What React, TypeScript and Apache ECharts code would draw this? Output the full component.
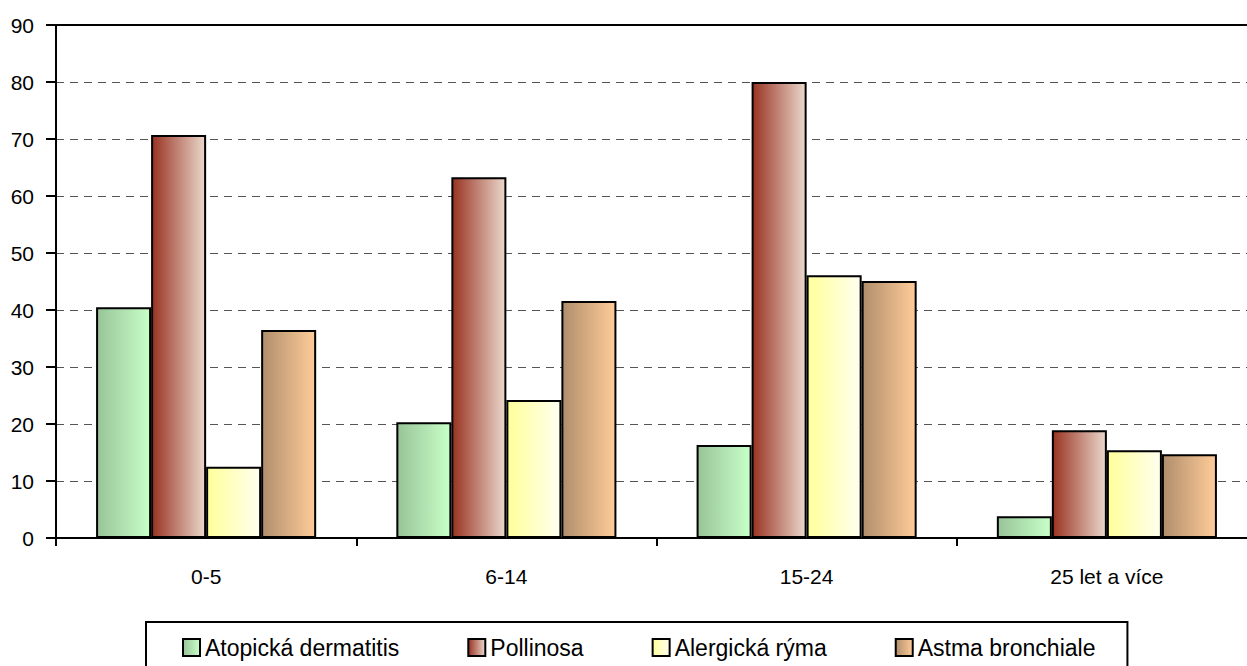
import React, { useEffect, useRef } from "react";
import * as echarts from "echarts";

const categories = ["0-5", "6-14", "15-24", "25 let a více"];
const seriesNames = ["Atopická dermatitis", "Pollinosa", "Alergická rýma", "Astma bronchiale"];
const atopicka = [40.5, 20.3, 16.3, 3.8];
const pollinosa = [70.7, 63.3, 80.0, 18.9];
const ryma = [12.5, 24.2, 46.1, 15.4];
const astma = [36.5, 41.6, 45.1, 14.7];
const yTicks = { min: 0, max: 90, interval: 10 };

const gradients: [string, string][] = [
  ["#98c498", "#c8ffc8"],
  ["#993322", "#ead8cc"],
  ["#ffff99", "#fffff0"],
  ["#b08e6c", "#ffcc99"],
];

const FONT = "'Liberation Sans', Arial, sans-serif";

function grad(c: [string, string]) {
  return new echarts.graphic.LinearGradient(0, 0, 1, 0, [
    { offset: 0, color: c[0] },
    { offset: 1, color: c[1] },
  ]);
}

export default function App() {
  const ref = useRef<HTMLDivElement>(null);
  useEffect(() => {
    if (!ref.current) return;
    const chart = echarts.init(ref.current, null, { renderer: "svg" });
    const data = [atopicka, pollinosa, ryma, astma];
    chart.setOption({
      animation: false,
      backgroundColor: "#ffffff",
      textStyle: { fontFamily: FONT },
      grid: {
        left: 56,
        width: 1201,
        top: 25,
        bottom: 128,
        containLabel: false,
        outerBoundsMode: "none",
      },
      legend: {
        top: 622,
        left: 146,
        data: seriesNames,
        icon: "rect",
        itemWidth: 17,
        itemHeight: 17,
        itemGap: 68,
        padding: [14, 32, 40, 36],
        borderColor: "#000",
        borderWidth: 2,
        textStyle: { fontSize: 23, color: "#000", fontFamily: FONT },
        itemStyle: { borderColor: "#000", borderWidth: 2 },
      },
      xAxis: [
        {
          type: "category",
          data: categories,
          axisLine: { lineStyle: { color: "#000", width: 2 } },
          axisTick: { show: true, length: 8, lineStyle: { color: "#000", width: 2 } },
          axisLabel: { fontSize: 21, color: "#000", margin: 28, fontFamily: FONT },
        },
        {
          type: "category",
          data: categories,
          position: "top",
          axisLine: { show: true, lineStyle: { color: "#000", width: 2 } },
          axisTick: { show: false },
          axisLabel: { show: false },
        },
      ],
      yAxis: {
        type: "value",
        min: yTicks.min,
        max: yTicks.max,
        interval: yTicks.interval,
        axisLine: { show: true, lineStyle: { color: "#000", width: 2 } },
        axisTick: { show: true, length: 10, lineStyle: { color: "#000", width: 2 } },
        axisLabel: { fontSize: 21, color: "#000", margin: 22, fontFamily: FONT },
        splitLine: { lineStyle: { color: "#555", type: [8, 6], width: 1 } },
      },
      series: seriesNames.map((name, i) => ({
        name,
        type: "bar",
        data: data[i],
        barGap: "0%",
        barCategoryGap: "26.7%",
        itemStyle: { color: grad(gradients[i]), borderColor: "#000", borderWidth: 2 },
      })),
    });
    return () => chart.dispose();
  }, []);
  return (
    <div
      ref={ref}
      style={{ position: "fixed", left: 0, top: 0, width: 1247, height: 666 }}
    />
  );
}
